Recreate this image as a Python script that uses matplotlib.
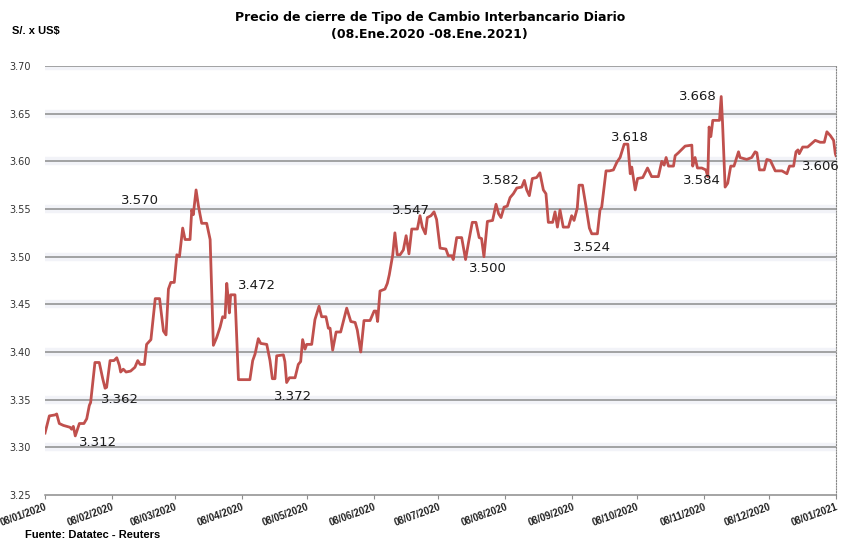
import numpy as np
import matplotlib
matplotlib.use("Agg")
import matplotlib.pyplot as plt
import matplotlib.dates as mdates

# days counted from 08/01/2020, rate
days = [0, 2.0, 4.6, 5.4, 6.6, 8.5, 11.6, 12.3, 13.1, 14.0, 15.9, 18.0, 19.3, 20.5, 21.1,
        23.1, 25.1, 26.7, 27.8, 28.5, 30.1, 31.9, 33.2, 34.4, 35.0, 36.2, 37.5, 39.6, 41.6,
        42.9, 44.0, 46.0, 47.0, 49.0, 51.0, 53.0, 54.8, 56.0, 57.1, 58.2, 59.8, 61.0, 62.2,
        63.7, 64.8, 67.1, 67.9, 68.6, 69.9, 71.0, 72.5, 74.8, 76.4, 77.9, 79.4, 81.0, 82.2,
        83.3, 84.1, 84.8, 85.3, 85.9, 87.9, 89.5, 94.8, 96.1, 97.2, 98.7, 99.8, 102.6, 104.1,
        105.2, 106.4, 107.2, 110.3, 111.0, 111.8, 113.1, 115.7, 117.2, 118.3, 119.2, 120.3,
        121.1, 123.4, 124.9, 126.8, 128.0, 130.0, 131.1, 131.9, 133.1, 134.7, 136.8, 139.6,
        141.5, 143.5, 144.5, 146.1, 147.6, 150.4, 152.3, 153.2, 153.9, 155.0, 157.3, 158.4,
        159.3, 160.9, 161.9, 163.0, 164.3, 165.8, 167.1, 168.4, 169.7, 172.3, 173.5, 174.6,
        176.0, 176.9, 178.6, 180.0, 181.2, 182.8, 185.5, 186.6, 188.2, 188.9, 190.5, 192.8,
        194.6, 195.9, 197.7, 199.4, 200.9, 202.0, 203.1, 204.7, 207.1, 208.7, 209.9, 211.0,
        212.4, 213.9, 215.2, 216.7, 218.3, 220.6, 221.8, 222.9, 224.1, 225.5, 227.5, 229.0,
        230.6, 231.8, 232.9, 234.9, 236.0, 237.1, 238.3, 239.8, 242.2, 243.7, 244.8, 246.3,
        247.1, 248.7, 250.3, 251.9, 253.0, 255.6, 256.8, 257.6, 259.6, 261.2, 263.0, 264.6,
        266.1, 268.0, 269.7, 270.8, 271.5, 273.1, 274.2, 276.6, 278.8, 280.7, 283.8, 285.4,
        286.5, 287.4, 288.5, 290.8, 291.6, 293.1, 296.2, 299.3, 299.7, 300.8, 301.9, 303.9,
        305.8, 306.7, 307.3, 308.1, 309.0, 312.1, 312.9, 313.5, 314.7, 315.9, 317.3, 318.8,
        320.9, 321.6, 324.7, 327.0, 328.6, 329.4, 330.6, 332.8, 334.0, 335.6, 337.9, 341.0,
        343.3, 344.5, 346.4, 347.5, 348.4, 349.0, 350.6, 352.9, 354.9, 356.4, 358.7, 360.6,
        361.8, 363.4, 364.9, 365.7, 366.0]
rates = [3.315, 3.333, 3.334, 3.335, 3.325, 3.323, 3.321, 3.319, 3.322, 3.312, 3.325, 3.325,
         3.330, 3.344, 3.347, 3.389, 3.389, 3.372, 3.362, 3.363, 3.391, 3.391, 3.394, 3.386,
         3.379, 3.382, 3.379, 3.380, 3.384, 3.391, 3.387, 3.387, 3.408, 3.413, 3.456, 3.456,
         3.422, 3.418, 3.466, 3.473, 3.473, 3.502, 3.500, 3.530, 3.518, 3.518, 3.549, 3.544,
         3.570, 3.553, 3.535, 3.535, 3.518, 3.407, 3.415, 3.426, 3.437, 3.436, 3.472, 3.455,
         3.441, 3.460, 3.460, 3.371, 3.371, 3.391, 3.398, 3.414, 3.409, 3.408, 3.391, 3.372,
         3.372, 3.396, 3.397, 3.390, 3.368, 3.373, 3.373, 3.387, 3.390, 3.413, 3.403, 3.408,
         3.408, 3.434, 3.448, 3.437, 3.437, 3.425, 3.425, 3.402, 3.421, 3.421, 3.446, 3.432,
         3.431, 3.423, 3.400, 3.433, 3.433, 3.443, 3.443, 3.432, 3.464, 3.466, 3.472, 3.481,
         3.502, 3.525, 3.502, 3.502, 3.507, 3.522, 3.503, 3.529, 3.529, 3.543, 3.531, 3.524,
         3.541, 3.543, 3.547, 3.539, 3.509, 3.508, 3.501, 3.501, 3.497, 3.520, 3.520, 3.497,
         3.514, 3.536, 3.536, 3.520, 3.519, 3.500, 3.537, 3.538, 3.555, 3.545, 3.541, 3.552,
         3.553, 3.562, 3.566, 3.572, 3.573, 3.580, 3.570, 3.564, 3.582, 3.583, 3.588, 3.570,
         3.566, 3.536, 3.536, 3.547, 3.531, 3.549, 3.531, 3.531, 3.543, 3.538, 3.551, 3.575,
         3.575, 3.553, 3.530, 3.524, 3.524, 3.549, 3.552, 3.590, 3.590, 3.591, 3.599, 3.604,
         3.618, 3.618, 3.587, 3.594, 3.570, 3.582, 3.583, 3.593, 3.584, 3.584, 3.600, 3.596,
         3.604, 3.595, 3.595, 3.606, 3.609, 3.616, 3.617, 3.595, 3.604, 3.593, 3.593, 3.591,
         3.584, 3.636, 3.626, 3.643, 3.643, 3.668, 3.641, 3.573, 3.577, 3.595, 3.595, 3.610,
         3.604, 3.602, 3.604, 3.610, 3.609, 3.591, 3.591, 3.602, 3.601, 3.590, 3.590, 3.587,
         3.595, 3.595, 3.610, 3.612, 3.608, 3.615, 3.615, 3.619, 3.622, 3.620, 3.620, 3.631,
         3.627, 3.622, 3.608, 3.606]

# data labels: (day, value) plus text offset in pixels
label_days = [14.0, 27.8, 69.9, 84.1, 111.8, 180.0, 203.1, 225.5, 253.0, 268.0, 312.9, 314.7, 366.0]
label_vals = [3.312, 3.362, 3.570, 3.472, 3.372, 3.547, 3.500, 3.582, 3.524, 3.618, 3.668, 3.584, 3.606]
label_off = [(23, -7), (15, -11), (-56, -11), (30, -2), (6, -18), (-23, 1), (4, -12),
             (-31, -2), (0, -14), (6, 7), (-23, 0), (-23, -4), (-15, -11)]

yticks = [3.25, 3.30, 3.35, 3.40, 3.45, 3.50, 3.55, 3.60, 3.65, 3.70]

start = mdates.datestr2num("2020-01-08")
x = start + np.array(days)

fig = plt.figure(figsize=(8.56, 5.41), dpi=100)
ax = fig.add_axes([0.0526, 0.085, 0.924, 0.793])

# gridlines with the soft shadow the original has
for y in yticks[1:]:
    ax.axhline(y, color="#f2f3f8", lw=6, zorder=1)
    ax.axhline(y, color="#8c8c8c", lw=1.1, zorder=2)

ax.plot(x, rates, color="#C0504D", lw=2, zorder=3)

for d, v, (dx, dy) in zip(label_days, label_vals, label_off):
    ax.annotate(f"{v:.3f}", (start + d, v), xytext=(dx, dy), textcoords="offset pixels",
                ha="center", va="center", fontsize=9.5, color="#1a1a1a", zorder=4)

ax.set_ylim(3.25, 3.70)
ax.set_xlim(start, mdates.datestr2num("2021-01-08"))
ax.set_yticks(yticks)
ax.set_yticklabels([f"{t:.2f}" for t in yticks], fontsize=7, color="#333333")

months = ["2020-%02d-08" % m for m in range(1, 13)] + ["2021-01-08"]
xt = [mdates.datestr2num(m) for m in months]
ax.set_xticks(xt)
ax.set_xticklabels([mdates.num2date(t).strftime("%d/%m/%Y") for t in xt],
                   rotation=20, ha="right", rotation_mode="anchor",
                   fontsize=7, fontweight="bold", color="#222222", family="Liberation Sans")

for s in ["top", "left"]:
    ax.spines[s].set_visible(False)
ax.spines["bottom"].set_color("#8c8c8c")
ax.spines["bottom"].set_linewidth(1.1)
ax.spines["right"].set_color("#888888")
ax.spines["right"].set_linestyle((0, (1, 1.5)))
ax.spines["right"].set_linewidth(0.8)
ax.tick_params(axis="y", length=0, pad=10)
ax.tick_params(axis="x", length=3, color="#8c8c8c", pad=2)

fig.text(0.502, 0.968, "Precio de cierre de Tipo de Cambio Interbancario Diario",
         ha="center", va="center", fontsize=9, fontweight="bold")
fig.text(0.502, 0.936, "(08.Ene.2020 -08.Ene.2021)",
         ha="center", va="center", fontsize=9, fontweight="bold")
fig.text(0.014, 0.942, "S/. x US$", ha="left", va="center", fontsize=8,
         fontweight="bold", family="Liberation Sans")
fig.text(0.029, 0.011, "Fuente: Datatec - Reuters", ha="left", va="center", fontsize=8,
         fontweight="bold", family="Liberation Sans")

fig.savefig("out.png", dpi=100)
